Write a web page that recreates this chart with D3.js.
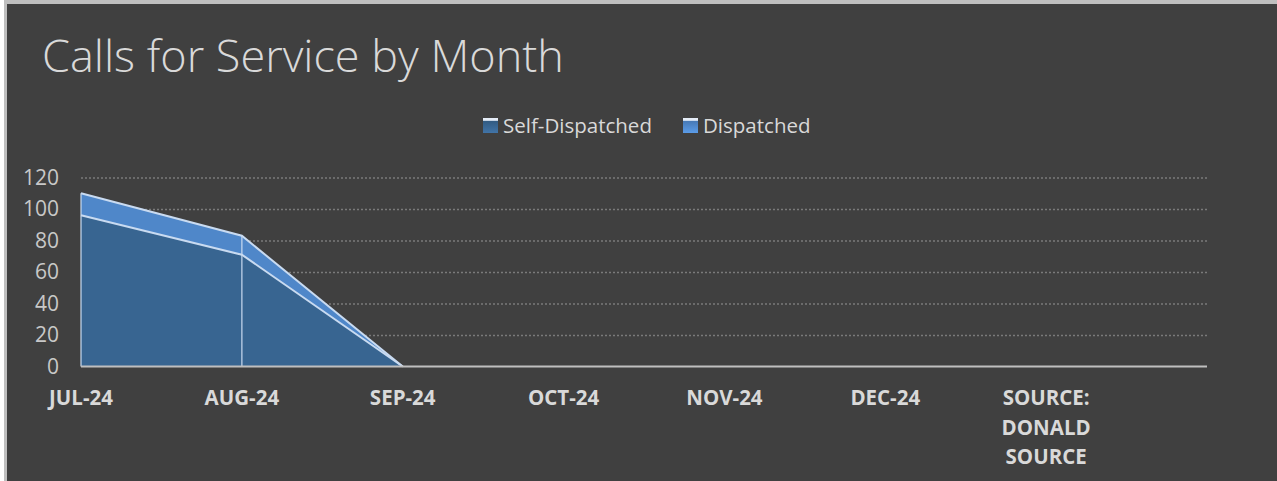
<!DOCTYPE html>
<html>
<head>
<meta charset="utf-8">
<script src="https://cdn.jsdelivr.net/npm/d3@7"></script>
<style>
  html, body { margin: 0; padding: 0; background: #ffffff; }
  svg { display: block; font-family: "Open Sans", "Liberation Sans", sans-serif; }
</style>
</head>
<body>
<div id="chart"></div>
<script>
var canvasWidth = 1277;
var canvasHeight = 481;

/*Chart data*/
var months = ["JUL-24", "AUG-24", "SEP-24", "OCT-24", "NOV-24", "DEC-24", "SOURCE: DONALD SOURCE", ""];
var selfDispatched = [96, 71, 0, null, null, null, null, null];
var dispatched = [14, 12, 0, null, null, null, null, null];
var seriesNames = ["Self-Dispatched", "Dispatched"];
var yTicks = [0, 20, 40, 60, 80, 100, 120];

var colors = { "Self-Dispatched": "#386591", "Dispatched": "#4f87c9" };
var edgeColor = "#c9dbf1";

var svg = d3.select("#chart")
    .append("svg")
    .attr("width", canvasWidth)
    .attr("height", canvasHeight);

/*Frame and background*/
svg.append("rect").attr("x", 4).attr("y", 0)
    .attr("width", canvasWidth - 4).attr("height", canvasHeight)
    .attr("fill", "#bfbfbf");
svg.append("rect").attr("x", 7).attr("y", 4)
    .attr("width", canvasWidth - 7).attr("height", canvasHeight - 4)
    .attr("fill", "#404040");

/*Title*/
svg.append("text")
    .attr("x", 42)
    .attr("y", 72)
    .attr("fill", "#d9d9d9")
    .attr("font-size", 45)
    .attr("font-weight", 300)
    .text("Calls for Service by Month");

/*Scales*/
var xScale = d3.scalePoint().domain(months).range([81, 1207]);
var yScale = d3.scaleLinear().domain([0, 120]).range([366.5, 177.5]);

var rows = months.map(function(m, i) {
    return { month: m, "Self-Dispatched": selfDispatched[i], "Dispatched": dispatched[i] };
});
var stacked = d3.stack().keys(seriesNames)
    .value(function(d, k) { return d[k] == null ? 0 : d[k]; })(rows);

/*Gridlines*/
var grid = svg.append("g")
    .attr("transform", "translate(81,0)")
    .call(d3.axisLeft(yScale).tickValues(yTicks.filter(function(t) { return t > 0; }))
        .tickSize(-(1207 - 81)).tickFormat(""));
grid.select(".domain").remove();
grid.selectAll("line")
    .attr("stroke", "#7a7a7a")
    .attr("stroke-width", 1.3)
    .attr("stroke-dasharray", "2,2");

/*Y axis labels*/
var yAxis = svg.append("g")
    .attr("transform", "translate(59,0)")
    .call(d3.axisLeft(yScale).tickValues(yTicks).tickSize(0).tickPadding(0));
yAxis.select(".domain").remove();
yAxis.selectAll("text")
    .attr("fill", "#c8c8c8")
    .attr("font-size", 21)
    .attr("font-family", "Open Sans, sans-serif");

/*Areas*/
var defined = function(d) { return d.data["Self-Dispatched"] != null; };
var area = d3.area()
    .defined(defined)
    .x(function(d) { return xScale(d.data.month); })
    .y0(function(d) { return yScale(d[0]); })
    .y1(function(d) { return yScale(d[1]); });
var topLine = d3.line()
    .defined(defined)
    .x(function(d) { return xScale(d.data.month); })
    .y(function(d) { return yScale(d[1]); });

svg.append("g").selectAll(".area")
    .data(stacked)
    .join("path")
    .attr("class", "area")
    .attr("fill", function(d) { return colors[d.key]; })
    .attr("d", area);

/*Drop lines*/
svg.append("g").selectAll(".drop")
    .data(stacked[stacked.length - 1].filter(defined))
    .join("line")
    .attr("class", "drop")
    .attr("x1", function(d) { return xScale(d.data.month); })
    .attr("x2", function(d) { return xScale(d.data.month); })
    .attr("y1", yScale(0))
    .attr("y2", function(d) { return yScale(d[1]); })
    .attr("stroke", edgeColor)
    .attr("stroke-opacity", 0.8)
    .attr("stroke-width", 1.5);

svg.append("g").selectAll(".edge")
    .data(stacked)
    .join("path")
    .attr("class", "edge")
    .attr("fill", "none")
    .attr("stroke", edgeColor)
    .attr("stroke-width", 2)
    .attr("d", topLine);

/*X axis*/
svg.append("line")
    .attr("x1", 81).attr("x2", 1207)
    .attr("y1", yScale(0)).attr("y2", yScale(0))
    .attr("stroke", "#bfbfbf")
    .attr("stroke-width", 2);

var xLabels = svg.append("g").selectAll(".xlab")
    .data(months)
    .join("text")
    .attr("class", "xlab")
    .attr("x", function(d) { return xScale(d); })
    .attr("y", 405)
    .attr("text-anchor", "middle")
    .attr("fill", "#d9d9d9")
    .attr("font-size", 20.5)
    .attr("font-weight", 700);
xLabels.each(function(d) {
    var words = d.split(" ");
    var t = d3.select(this);
    words.forEach(function(w, i) {
        t.append("tspan")
            .attr("x", xScale(d))
            .attr("dy", i === 0 ? 0 : 29.5)
            .text(w);
    });
});

/*Legend*/
var defs = svg.append("defs");
seriesNames.forEach(function(name, i) {
    var g = defs.append("linearGradient")
        .attr("id", "lg" + i)
        .attr("x1", 0).attr("y1", 0).attr("x2", 0).attr("y2", 1);
    g.append("stop").attr("offset", "0%").attr("stop-color", "#e4ecf7");
    g.append("stop").attr("offset", "16%").attr("stop-color", "#e4ecf7");
    g.append("stop").attr("offset", "20%").attr("stop-color", d3.color(colors[name]).darker(0.3));
    g.append("stop").attr("offset", "100%").attr("stop-color", d3.color(colors[name]).brighter(0.4));
});

var legendX = [483, 683];
var legend = svg.append("g").selectAll(".legend")
    .data(seriesNames)
    .join("g")
    .attr("class", "legend")
    .attr("transform", function(d, i) { return "translate(" + legendX[i] + ",118)"; });
legend.append("rect")
    .attr("width", 15).attr("height", 15)
    .attr("fill", function(d, i) { return "url(#lg" + i + ")"; });
legend.append("text")
    .attr("x", 20)
    .attr("y", 15)
    .attr("fill", "#d9d9d9")
    .attr("font-size", 20.5)
    .text(function(d) { return d; });
</script>
</body>
</html>
